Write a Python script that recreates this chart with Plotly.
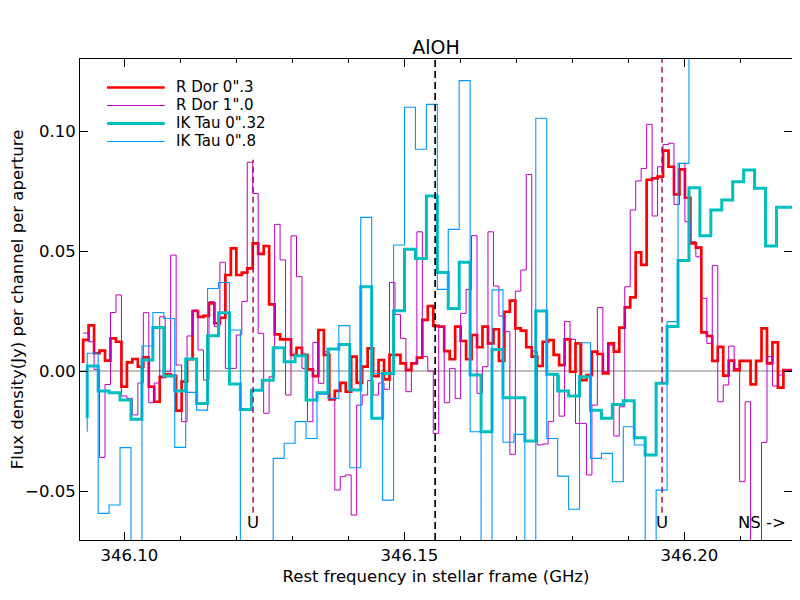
import numpy as np
import plotly.graph_objects as go

# spectral grids (first channel edge, channel width) in GHz
RDOR_F0, RDOR_DF = 346.09266, 0.0009766
IKTAU_F0, IKTAU_DF = 346.09339, 0.001953

# R Dor 0".3 (flux per channel, Jy)
r_dor_03 = [
    0.0033, 0.013, 0.019, 0.0074, 0.0085, 0.0043, 0.0136, 0.0122, -0.0065, 0.0036,
    0.005, 0.0018, 0.0057, -0.0065, -0.0128, -0.0024, -0.0014, -0.002, -0.0165, -0.0044,
    0.0049, 0.025, 0.0226, 0.023, 0.0282, 0.0199, 0.0222, 0.04, 0.0511, 0.04,
    0.041, 0.0428, 0.0532, 0.0488, 0.0521, 0.0278, 0.0153, 0.0132, 0.0132, 0.0067,
    0.0097, 0.0067, 0.0007, -0.0021, 0.0171, 0.0067, -0.0118, -0.0083, -0.0049, -0.0086,
    0.006, -0.0049, 0.0018, 0.0094, -0.0021, 0.0046, -0.0035, 0.0067, 0.0067, 0.0032,
    0.0004, 0.0032, 0.0056, 0.0213, 0.0271, 0.0188, 0.0185, 0.0083, 0.0049, 0.0185,
    0.0125, 0.0049, 0.015, 0.0099, 0.0185, 0.0115, 0.0174, 0.0042, 0.0247, 0.0293,
    0.0178, 0.0168, 0.0099, 0.006, 0.0021, 0.0122, 0.0129, 0.0067, 0.0025, 0.0132,
    -0.0003, 0.0115, -0.0038, -0.0017, 0.0081, 0.0071, -0.001, 0.0115, 0.0081, 0.0181,
    0.0265, 0.0307, 0.0494, 0.0442, 0.0796, 0.0803, 0.081, 0.0918, 0.0851, 0.0736,
    0.084, 0.0722, 0.0532, 0.0514, 0.0161, 0.0146, 0.0042, 0.0101, -0.0019, 0.0043,
    0.0004, 0.0042, 0.0042, -0.0056, 0.0042, 0.0178, 0.0032, 0.0119, -0.0069, 0.0004,
    0.0004,
]

# R Dor 1".0
r_dor_10 = [
    0.0158, 0.0158, 0.0122, 0.0007, -0.036, -0.0056, 0.0244, 0.0317, -0.0104, -0.0114,
    -0.0183, -0.005, 0.0243, -0.0132, -0.005, 0.0226, -0.0003, 0.0483, 0.0025, -0.0211,
    0.0146, 0.0254, 0.0088, -0.0038, 0.0289, 0.0185, 0.0453, 0.0011, 0.0011, 0.015,
    0.029, 0.087, 0.074, 0.0157, -0.0176, -0.0024, 0.0611, 0.0463, -0.01, 0.0563,
    0.0393, 0.0011, -0.0211, 0.0119, -0.0051, 0.008, -0.0114, -0.0496, -0.044, -0.0433,
    -0.06, -0.0142, -0.01, -0.004, -0.01, -0.005, -0.0076, 0.0369, 0.0236, 0.0136,
    -0.0086, 0.0033, 0.058, 0.006, 0.0, -0.026, 0.0185, -0.0132, 0.0011, -0.0114,
    0.024, 0.034, 0.0564, -0.0093, 0.0018, 0.058, 0.0354, 0.0229, 0.0164, -0.0347,
    0.0333, 0.0421, 0.0819, 0.0083, -0.0308, -0.0304, -0.0211, -0.0017, -0.0188, 0.0206,
    0.0132, -0.0218, -0.0218, -0.0433, -0.0142, 0.0265, -0.0003, 0.0108, -0.0271, -0.0149,
    0.0351, 0.0671, 0.0792, 0.0844, 0.1028, 0.0646, 0.0851, 0.0944, 0.0949, 0.0694,
    0.0865, 0.0622, 0.0539, 0.0476, 0.0303, 0.0115, 0.0439, -0.0128, -0.0058, 0.0104,
    0.0011, -0.0461, -0.0128, -0.08, -0.08, -0.0297, 0.006, -0.0063, -0.0017, 0.0004,
    0.0004,
]

# IK Tau 0".32
ik_tau_032 = [
    -0.0197, 0.0021, -0.0083, -0.009, -0.0121, -0.0201, 0.0046, 0.0181, -0.0021, -0.0083,
    0.005, -0.0135, 0.0147, 0.0243, -0.0054, -0.016, -0.008, -0.0038, 0.0097, 0.0039,
    0.0064, -0.0121, -0.009, 0.0092, 0.0111, -0.0079, 0.0351, -0.0197, -0.001, 0.0251,
    0.0507, 0.0469, 0.0729, 0.0411, 0.0261, 0.0453, -0.0017, -0.0253, 0.009, -0.0111,
    -0.0111, -0.0292, 0.025, -0.0013, -0.0083, -0.0104, -0.0024, -0.0163, -0.0197, -0.0139,
    -0.0124, -0.0278, -0.035, -0.0051, 0.0185, 0.046, 0.0764, 0.0564, 0.0671, 0.0713,
    0.0789, 0.0838, 0.0761, 0.0521, 0.0682, 0.0682,
]

# IK Tau 0".8
ik_tau_08 = [
    -0.0253, 0.0074, -0.0593, -0.0558, -0.0319, -0.09, 0.0104, 0.0244, 0.0219, -0.0318,
    -0.0089, -0.0163, 0.0344, 0.0369, 0.0171, -0.09, -0.09, -0.09, -0.0364, -0.0301,
    -0.0211, -0.0281, -0.0097, -0.0114, 0.0189, -0.0403, 0.064, -0.001, -0.0538, 0.0525,
    0.1099, 0.0924, 0.1111, 0.034, 0.059, 0.121, -0.0253, -0.09, 0.0338, -0.0297,
    -0.0264, -0.09, 0.1053, -0.0281, -0.0438, -0.0576, 0.0118, -0.0364, -0.0343, -0.0461,
    -0.0232, -0.0308, -0.09, -0.0496, 0.0206, 0.0865, 0.15, 0.15, 0.15, 0.15,
    0.15, 0.15, 0.15, 0.15, 0.15, 0.15,
]

# marked line positions (GHz)
u_lines = [346.1230, 346.1960]
u_tops = [0.088, 0.13]
aloh_line = 346.1555
label_y = -0.0629

x_ticks = [346.10, 346.15, 346.20]
x_ticktext = ["346.10", "346.15", "346.20"]
y_ticks = [-0.05, 0.0, 0.05, 0.10]
y_ticktext = ["\u22120.05", "0.00", "0.05", "0.10"]

FONT = "DejaVu Sans"

f_rdor = np.round(RDOR_F0 + np.arange(len(r_dor_03)) * RDOR_DF, 6)
f_iktau = np.round(IKTAU_F0 + np.arange(len(ik_tau_032)) * IKTAU_DF, 6)

series = [
    ('R Dor 0".3', f_rdor, r_dor_03, "#ff0000", 2.7),
    ('R Dor 1".0', f_rdor, r_dor_10, "#bf00bf", 1),
    ('IK Tau 0".32', f_iktau, ik_tau_032, "#00bfbf", 3),
    ('IK Tau 0".8', f_iktau, ik_tau_08, "#0099ff", 1.1),
]

fig = go.Figure()
for name, fx, fy, col, lw in series:
    fig.add_trace(go.Scatter(x=fx, y=fy, mode="lines", name=name, showlegend=False,
                             line=dict(shape="vh", color=col, width=lw)))

# zero level
fig.add_shape(type="line", xref="paper", x0=0, x1=1, yref="y", y0=0, y1=0,
              line=dict(color="#aaaaaa", width=1.5), layer="below")
# AlOH line
fig.add_shape(type="line", xref="x", x0=aloh_line, x1=aloh_line, yref="paper", y0=0, y1=1,
              line=dict(color="black", width=1.7, dash="7px,4px"))
for f, top in zip(u_lines, u_tops):
    fig.add_shape(type="line", xref="x", x0=f, x1=f, yref="y", y0=-0.059, y1=top,
                  line=dict(color="#a8005a", width=1.4, dash="6px,4px"))
    fig.add_annotation(x=f, y=label_y, text="U", showarrow=False,
                       font=dict(family=FONT, size=16.5, color="black"))
fig.add_annotation(x=0.995, xref="paper", y=label_y, text="NS ->", showarrow=False,
                   xanchor="right", font=dict(family=FONT, size=16.5, color="black"))

# legend (matplotlib-like compact spacing)
for i, (name, fx, fy, col, lw) in enumerate(series):
    ly = 0.9407 - i * 0.0374
    fig.add_shape(type="line", xref="paper", yref="paper", x0=0.038, x1=0.119, y0=ly, y1=ly,
                  line=dict(color=col, width=lw))
    fig.add_annotation(xref="paper", yref="paper", x=0.133, y=ly + 0.002, text=name,
                       showarrow=False, xanchor="left", yanchor="middle", borderpad=0,
                       font=dict(family=FONT, size=15, color="black"))

fig.update_layout(
    width=792, height=592,
    margin=dict(l=72, r=8, t=51, b=60),
    paper_bgcolor="white", plot_bgcolor="white",
    font=dict(family=FONT, size=16.5, color="black"),
    title=dict(text="AlOH", x=0.5, xref="paper", xanchor="center", y=1 - 39 / 592,
               yanchor="middle", font=dict(family=FONT, size=19)),
    showlegend=False,
)
fig.update_xaxes(
    range=[346.0921, 346.2192], showgrid=False, zeroline=False, automargin=False,
    showline=True, linecolor="black", linewidth=1, mirror="allticks",
    ticks="inside", ticklen=8, tickcolor="black", tickvals=x_ticks, ticktext=x_ticktext,
    ticklabelshift=5,
    minor=dict(ticks="inside", ticklen=4, dtick=0.01, tick0=346.10, tickcolor="black"),
    title=dict(text="Rest frequency in stellar frame (GHz)", standoff=6,
               font=dict(family=FONT, size=16.5)),
)
fig.update_yaxes(
    range=[-0.0704, 0.13], showgrid=False, zeroline=False, automargin=False,
    showline=True, linecolor="black", linewidth=1, mirror="allticks",
    ticks="inside", ticklen=8, tickcolor="black", tickvals=y_ticks, ticktext=y_ticktext,
    title=dict(text="Flux density(Jy) per channel per aperture", standoff=6,
               font=dict(family=FONT, size=16.5)),
)

fig.write_html("out.html")
